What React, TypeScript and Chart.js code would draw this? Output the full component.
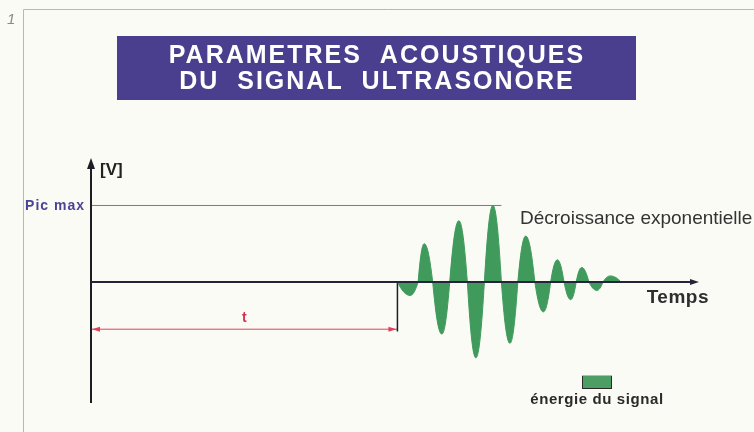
import React, { useEffect, useRef } from "react";
import { Chart, registerables } from "chart.js";

Chart.register(...registerables);

// ---------- data ----------
const TITLE_LINES = ["PARAMETRES  ACOUSTIQUES", "DU  SIGNAL  ULTRASONORE"];

// time (arbitrary units, 0..100) of zero crossings and extrema of the echo
const SIGNAL_TIME = [
  50.4, 52.5, 53.8, 54.8, 56.2, 57.7, 59.0, 60.5, 61.9, 63.3, 64.7, 66.1, 67.5,
  68.9, 70.2, 71.5, 73.0, 74.4, 75.6, 76.7, 77.8, 78.9, 79.8, 80.7, 81.9, 83.2,
  84.2, 85.4, 87.2,
];
// amplitude (relative to Pic max = 1)
const SIGNAL_VOLTS = [
  0, -0.175, 0, 0.5, 0, -0.68, 0, 0.8, 0, -0.99, 0, 1.0, 0,
  -0.8, 0, 0.6, 0, -0.39, 0, 0.29, 0, -0.23, 0, 0.19, 0, -0.11,
  0, 0.08, 0,
];

const PIC_MAX = 1.0;
const PIC_MAX_LINE_END = 67.5;
const T_LEVEL = -0.616;
const T_MARK_BOTTOM = -0.645;

const X_MIN = 0;
const X_MAX = 100;
const Y_MIN = -1.58;
const Y_MAX = 1.62;

const LABEL_Y_AXIS = "[V]";
const LABEL_X_AXIS = "Temps";
const LABEL_PIC_MAX = "Pic max";
const LABEL_T = "t";
const LABEL_DECAY = "Décroissance exponentielle";
const LABEL_LEGEND = "énergie du signal";

const FONT = "'Liberation Sans', Arial, Helvetica, sans-serif";
const GREEN = "#3f9a5c";

function arrowHead(
  ctx: CanvasRenderingContext2D,
  x: number,
  y: number,
  dir: "up" | "right" | "left",
  len: number,
  half: number,
  color: string
) {
  ctx.save();
  ctx.fillStyle = color;
  ctx.beginPath();
  if (dir === "up") {
    ctx.moveTo(x, y);
    ctx.lineTo(x - half, y + len);
    ctx.lineTo(x + half, y + len);
  } else if (dir === "right") {
    ctx.moveTo(x, y);
    ctx.lineTo(x - len, y - half);
    ctx.lineTo(x - len, y + half);
  } else {
    ctx.moveTo(x, y);
    ctx.lineTo(x + len, y - half);
    ctx.lineTo(x + len, y + half);
  }
  ctx.closePath();
  ctx.fill();
  ctx.restore();
}

function text(
  ctx: CanvasRenderingContext2D,
  s: string,
  x: number,
  y: number,
  font: string,
  color: string,
  align: CanvasTextAlign,
  spacing = 0
) {
  ctx.save();
  ctx.font = font;
  ctx.fillStyle = color;
  ctx.textAlign = align;
  ctx.textBaseline = "middle";
  (ctx as any).letterSpacing = `${spacing}px`;
  ctx.fillText(s, x, y);
  ctx.restore();
}

// Shape each half-wave of the echo like a rounded lobe: steep at the zero
// crossings, flat at the extrema (adjusts the line's own bezier handles).
const LOBE_STEEP = 0.6;
const LOBE_FLAT = 0.38;
const lobePlugin = {
  id: "lobes",
  beforeDatasetsDraw(chart: any) {
    const meta = chart.getDatasetMeta(0);
    const line = meta.dataset;
    if (!line) return;
    line.updateControlPoints(chart.chartArea, "x");
    const pts = meta.data;
    const y0 = chart.scales.y.getPixelForValue(0);
    for (let i = 0; i < pts.length - 1; i++) {
      const a = pts[i];
      const b = pts[i + 1];
      const dx = b.x - a.x;
      if (SIGNAL_VOLTS[i] === 0) {
        a.cp2x = a.x + dx * 0.32;
        a.cp2y = y0 + (b.y - y0) * LOBE_STEEP;
        b.cp1x = b.x - dx * LOBE_FLAT;
        b.cp1y = b.y;
      } else {
        a.cp2x = a.x + dx * LOBE_FLAT;
        a.cp2y = a.y;
        b.cp1x = b.x - dx * 0.32;
        b.cp1y = y0 + (a.y - y0) * LOBE_STEEP;
      }
    }
  },
};

const decorPlugin = {
  id: "decor",
  beforeDraw(chart: any) {
    const ctx: CanvasRenderingContext2D = chart.ctx;
    ctx.save();
    ctx.fillStyle = "#fbfbf6";
    ctx.fillRect(0, 0, chart.width, chart.height);

    // frame
    ctx.strokeStyle = "#b9b9ac";
    ctx.lineWidth = 1;
    ctx.beginPath();
    ctx.moveTo(23.5, chart.height);
    ctx.lineTo(23.5, 9.5);
    ctx.lineTo(chart.width, 9.5);
    ctx.stroke();
    ctx.restore();

    // page number
    text(ctx, "1", 7, 20, `italic 15px ${FONT}`, "#8a8a8a", "left");

    // title box
    ctx.save();
    ctx.fillStyle = "#4a3e8e";
    ctx.fillRect(117, 36, 519, 64);
    ctx.restore();
    text(ctx, TITLE_LINES[0], 377, 56, `bold 25px ${FONT}`, "#ffffff", "center", 2);
    text(ctx, TITLE_LINES[1], 377, 82, `bold 25px ${FONT}`, "#ffffff", "center", 2);
  },
  afterDatasetsDraw(chart: any) {
    const ctx: CanvasRenderingContext2D = chart.ctx;
    const xs = chart.scales.x;
    const ys = chart.scales.y;
    const area = chart.chartArea;
    const x0 = xs.getPixelForValue(X_MIN);
    const y0 = ys.getPixelForValue(0);
    ctx.save();

    // y axis
    ctx.strokeStyle = "#1d1d24";
    ctx.lineWidth = 2;
    ctx.beginPath();
    ctx.moveTo(x0, area.bottom);
    ctx.lineTo(x0, area.top + 6);
    ctx.stroke();
    arrowHead(ctx, x0, area.top, "up", 11, 4, "#1d1d24");

    // x axis
    ctx.strokeStyle = "#23243a";
    ctx.lineWidth = 2;
    ctx.beginPath();
    ctx.moveTo(x0, y0);
    ctx.lineTo(area.right - 5, y0);
    ctx.stroke();
    arrowHead(ctx, area.right, y0, "right", 9, 3, "#23243a");

    // t arrow heads
    const tEnd = xs.getPixelForValue(SIGNAL_TIME[0]);
    const ty = ys.getPixelForValue(T_LEVEL);
    arrowHead(ctx, x0 + 1, ty, "left", 8, 2.5, "#e0405a");
    arrowHead(ctx, tEnd - 1, ty, "right", 8, 2.5, "#e0405a");

    // legend swatch
    ctx.fillStyle = "#4c9e62";
    ctx.fillRect(582, 375, 30, 14);
    ctx.strokeStyle = "#2a2a2a";
    ctx.lineWidth = 1;
    ctx.strokeRect(582.5, 375.5, 29, 13);
    ctx.strokeStyle = "#d8c040";
    ctx.beginPath();
    ctx.moveTo(582, 375.5);
    ctx.lineTo(612, 375.5);
    ctx.stroke();
    ctx.restore();

    // labels
    text(ctx, LABEL_PIC_MAX, x0 - 6, ys.getPixelForValue(PIC_MAX) + 1, `bold 14px ${FONT}`, "#4a4494", "right", 1);
    text(ctx, LABEL_Y_AXIS, x0 + 9, area.top + 12, `bold 17px ${FONT}`, "#222222", "left");
    text(ctx, LABEL_X_AXIS, 709, y0 + 16, `bold 19px ${FONT}`, "#2e2e2e", "right", 0.5);
    text(ctx, LABEL_T, (x0 + tEnd) / 2, ty - 11, `bold 14px ${FONT}`, "#d8304a", "center");
    text(ctx, LABEL_DECAY, 520, 219, `19px ${FONT}`, "#333333", "left");
    text(ctx, LABEL_LEGEND, 597, 400, `bold 15px ${FONT}`, "#2a2a2a", "center", 0.6);
  },
};

export default function App() {
  const canvasRef = useRef<HTMLCanvasElement | null>(null);

  useEffect(() => {
    const canvas = canvasRef.current;
    if (!canvas) return;
    const signal = SIGNAL_TIME.map((t, i) => ({ x: t, y: SIGNAL_VOLTS[i] }));
    const chart = new Chart(canvas, {
      type: "line",
      data: {
        datasets: [
          {
            label: LABEL_LEGEND,
            data: signal,
            fill: "origin",
            backgroundColor: GREEN,
            borderColor: GREEN,
            borderWidth: 1,
            pointRadius: 0,
            tension: 0.4,
          },
          {
            label: LABEL_PIC_MAX,
            data: [
              { x: X_MIN, y: PIC_MAX },
              { x: PIC_MAX_LINE_END, y: PIC_MAX },
            ],
            borderColor: "#7272bd",
            borderWidth: 1,
            pointRadius: 0,
            fill: false,
          },
          {
            label: "début",
            data: [
              { x: SIGNAL_TIME[0], y: 0 },
              { x: SIGNAL_TIME[0], y: T_MARK_BOTTOM },
            ],
            borderColor: "#1e1e1e",
            borderWidth: 1.5,
            pointRadius: 0,
            fill: false,
          },
          {
            label: LABEL_T,
            data: [
              { x: X_MIN, y: T_LEVEL },
              { x: SIGNAL_TIME[0], y: T_LEVEL },
            ],
            borderColor: "#e0405a",
            borderWidth: 1,
            pointRadius: 0,
            fill: false,
          },
        ],
      },
      options: {
        animation: false,
        responsive: false,
        maintainAspectRatio: false,
        layout: { padding: { left: 91, right: 55, top: 158, bottom: 29 } },
        scales: {
          x: { type: "linear", min: X_MIN, max: X_MAX, display: false },
          y: { type: "linear", min: Y_MIN, max: Y_MAX, display: false },
        },
        plugins: {
          legend: { display: false },
          title: { display: false },
          tooltip: { enabled: false },
        },
      },
      plugins: [lobePlugin, decorPlugin],
    });
    return () => chart.destroy();
  }, []);

  return (
    <div style={{ position: "fixed", left: 0, top: 0, width: 754, height: 432 }}>
      <canvas ref={canvasRef} width={754} height={432} style={{ display: "block" }} />
    </div>
  );
}
